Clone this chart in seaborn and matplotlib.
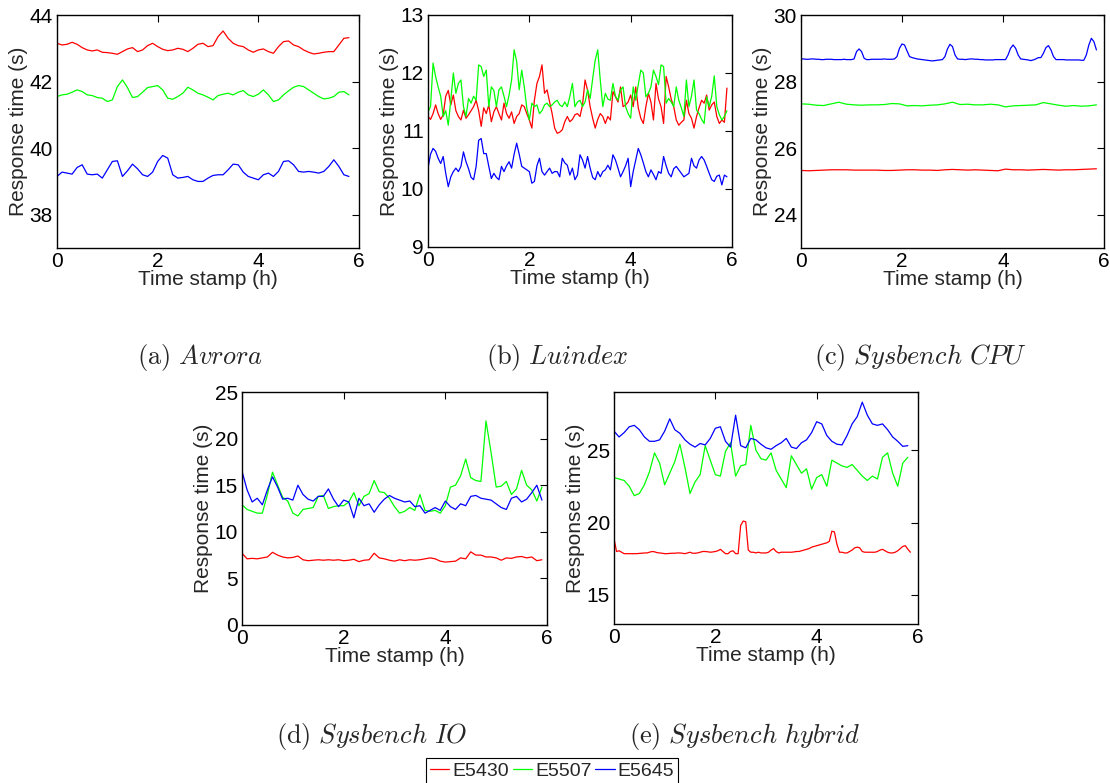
import numpy as np
import matplotlib
matplotlib.use('Agg')
import matplotlib.pyplot as plt
import seaborn as sns

# series names
servers = ['E5430', 'E5507', 'E5645']
colors = ['#ff0000', '#00ff00', '#0000ff']

# (a) Avrora, one value every 0.1 h
avrora_e5430 = [43.15, 43.1, 43.12, 43.18, 43.12, 43.02, 42.95, 42.92, 42.95, 42.88, 42.87, 42.85, 42.82, 42.9, 42.98,
                43.02, 42.9, 42.95, 43.08, 43.15, 43.05, 42.97, 42.93, 42.95, 43.0, 42.97, 42.9, 43.0, 43.12, 43.15,
                43.05, 43.08, 43.35, 43.52, 43.3, 43.15, 43.08, 43.05, 42.95, 42.88, 42.95, 42.98, 42.9, 42.85, 43.05,
                43.2, 43.22, 43.1, 43.05, 42.95, 42.88, 42.83, 42.85, 42.88, 42.9, 42.9, 43.1, 43.3, 43.32]
avrora_e5507 = [41.55, 41.6, 41.62, 41.68, 41.75, 41.7, 41.6, 41.58, 41.52, 41.5, 41.4, 41.45, 41.85, 42.05, 41.82,
                41.52, 41.55, 41.68, 41.82, 41.85, 41.88, 41.75, 41.5, 41.47, 41.55, 41.65, 41.83, 41.75, 41.65, 41.6,
                41.53, 41.45, 41.58, 41.62, 41.65, 41.6, 41.68, 41.73, 41.6, 41.55, 41.62, 41.75, 41.6, 41.4, 41.45,
                41.6, 41.72, 41.83, 41.88, 41.85, 41.75, 41.65, 41.55, 41.48, 41.5, 41.55, 41.68, 41.7, 41.6]
avrora_e5645 = [39.15, 39.28, 39.25, 39.22, 39.42, 39.5, 39.22, 39.2, 39.22, 39.1, 39.35, 39.6, 39.62, 39.15, 39.32,
                39.52, 39.38, 39.2, 39.15, 39.28, 39.6, 39.78, 39.7, 39.2, 39.1, 39.12, 39.15, 39.05, 39.0, 39.0,
                39.1, 39.18, 39.2, 39.2, 39.35, 39.52, 39.5, 39.28, 39.15, 39.1, 39.05, 39.2, 39.25, 39.15, 39.3,
                39.6, 39.62, 39.5, 39.3, 39.28, 39.3, 39.28, 39.25, 39.3, 39.45, 39.65, 39.45, 39.2, 39.15]

# (b) Luindex, one value every 0.05 h
luindex_e5430 = [11.25, 11.2, 11.3, 11.45, 11.3, 11.2, 11.28, 11.6, 11.7, 11.45, 11.62, 11.35, 11.25, 11.19, 11.36,
                 11.22, 11.28, 11.35, 11.42, 11.53, 11.35, 11.08, 11.4, 11.3, 11.45, 11.16, 11.33, 11.42, 11.3, 11.19,
                 11.48, 11.3, 11.22, 11.33, 11.13, 11.25, 11.3, 11.45, 11.42, 11.3, 11.19, 11.05, 11.53, 11.82, 11.94,
                 12.14, 11.65, 11.71, 11.5, 11.3, 11.05, 10.96, 10.98, 11.02, 11.16, 11.25, 11.16, 11.2, 11.28, 11.3,
                 11.25, 11.45, 11.88, 11.7, 11.42, 11.22, 11.05, 11.2, 11.3, 11.25, 11.13, 11.25, 11.19, 11.68, 11.59,
                 11.5, 11.76, 11.42, 11.45, 11.5, 11.62, 11.42, 11.76, 11.4, 11.22, 11.13, 11.42, 11.65, 11.5, 11.19,
                 11.82, 11.55, 11.42, 11.13, 11.94, 11.76, 11.55, 11.42, 11.19, 11.1, 11.15, 11.19, 11.53, 11.3, 11.22,
                 11.05, 11.25, 11.4, 11.53, 11.48, 11.62, 11.36, 11.45, 11.5, 11.25, 11.13, 11.19, 11.15, 11.74]
luindex_e5507 = [11.33, 11.42, 12.17, 11.94, 11.76, 11.6, 11.25, 11.35, 11.1, 11.53, 12.0, 11.65, 11.82, 11.88, 11.42,
                 11.25, 11.56, 11.48, 11.6, 11.53, 12.14, 12.11, 11.94, 12.05, 11.42, 11.76, 11.7, 11.42, 11.71, 11.76,
                 11.6, 11.42, 11.62, 11.88, 12.4, 12.2, 11.71, 12.05, 11.76, 11.4, 11.19, 11.48, 11.42, 11.45, 11.3,
                 11.35, 11.45, 11.48, 11.42, 11.45, 11.5, 11.53, 11.45, 11.42, 11.5, 11.42, 11.6, 11.82, 11.42, 11.5,
                 11.53, 11.42, 11.5, 11.71, 11.56, 11.9, 12.22, 12.4, 11.88, 11.42, 11.65, 11.55, 11.53, 11.82, 11.6,
                 11.53, 11.71, 11.76, 11.42, 11.3, 11.22, 11.76, 11.53, 11.8, 12.05, 12.0, 11.59, 11.65, 11.76, 12.05,
                 11.94, 11.8, 12.14, 12.11, 11.48, 11.56, 11.5, 11.42, 11.76, 11.53, 11.4, 11.25, 11.88, 11.42, 11.6,
                 11.88, 11.36, 11.3, 11.2, 11.13, 11.59, 11.42, 11.6, 11.95, 11.42, 11.28, 11.19, 11.25, 11.35]
luindex_e5645 = [10.36, 10.6, 10.7, 10.65, 10.53, 10.44, 10.56, 10.27, 10.04, 10.21, 10.3, 10.36, 10.3, 10.39, 10.64,
                 10.47, 10.35, 10.2, 10.16, 10.39, 10.84, 10.87, 10.61, 10.61, 10.39, 10.18, 10.27, 10.2, 10.16, 10.39,
                 10.3, 10.4, 10.47, 10.36, 10.6, 10.79, 10.6, 10.39, 10.36, 10.33, 10.3, 10.1, 10.13, 10.4, 10.53,
                 10.3, 10.24, 10.3, 10.36, 10.27, 10.3, 10.3, 10.21, 10.53, 10.45, 10.41, 10.24, 10.36, 10.16, 10.24,
                 10.59, 10.5, 10.36, 10.56, 10.36, 10.2, 10.16, 10.3, 10.21, 10.3, 10.33, 10.41, 10.33, 10.59, 10.5,
                 10.36, 10.21, 10.3, 10.4, 10.53, 10.04, 10.3, 10.5, 10.7, 10.59, 10.45, 10.3, 10.21, 10.33, 10.25,
                 10.16, 10.3, 10.27, 10.56, 10.4, 10.27, 10.21, 10.35, 10.39, 10.33, 10.27, 10.21, 10.24, 10.27, 10.53,
                 10.4, 10.36, 10.5, 10.56, 10.5, 10.39, 10.27, 10.16, 10.13, 10.22, 10.24, 10.07, 10.24, 10.21]

# (c) Sysbench CPU, E5430/E5507 every 0.15 h, E5645 every 0.05 h
cpu_e5430 = [25.33, 25.32, 25.33, 25.34, 25.35, 25.35, 25.35, 25.34, 25.34, 25.34, 25.34, 25.33, 25.33, 25.34,
             25.35, 25.35, 25.34, 25.34, 25.33, 25.35, 25.36, 25.35, 25.34, 25.35, 25.34, 25.33, 25.32, 25.37,
             25.35, 25.35, 25.34, 25.35, 25.36, 25.35, 25.34, 25.35, 25.35, 25.36, 25.37, 25.38]
cpu_e5507 = [27.33, 27.32, 27.29, 27.28, 27.33, 27.38, 27.32, 27.3, 27.29, 27.3, 27.3, 27.31, 27.34, 27.33,
             27.27, 27.28, 27.27, 27.29, 27.3, 27.33, 27.38, 27.31, 27.32, 27.3, 27.3, 27.32, 27.3, 27.24,
             27.27, 27.28, 27.29, 27.3, 27.37, 27.33, 27.29, 27.26, 27.28, 27.26, 27.27, 27.3]
cpu_e5645 = [28.68, 28.68, 28.67, 28.67, 28.68, 28.68, 28.67, 28.67, 28.66, 28.66, 28.67, 28.67, 28.67, 28.66,
             28.66, 28.66, 28.66, 28.67, 28.66, 28.66, 28.66, 28.68, 28.9, 28.98, 28.9, 28.7, 28.66, 28.66,
             28.67, 28.67, 28.67, 28.67, 28.67, 28.68, 28.67, 28.67, 28.67, 28.68, 28.75, 29.0, 29.13, 29.1,
             28.92, 28.75, 28.72, 28.7, 28.68, 28.67, 28.66, 28.65, 28.64, 28.63, 28.62, 28.63, 28.64, 28.65,
             28.66, 28.75, 28.98, 29.12, 29.05, 28.8, 28.68, 28.67, 28.67, 28.66, 28.67, 28.68, 28.68, 28.67,
             28.67, 28.66, 28.66, 28.65, 28.65, 28.65, 28.65, 28.66, 28.66, 28.66, 28.66, 28.66, 28.8, 29.0,
             29.1, 29.0, 28.8, 28.68, 28.67, 28.66, 28.65, 28.63, 28.65, 28.68, 28.72, 28.72, 28.85, 29.02,
             29.08, 28.95, 28.75, 28.66, 28.66, 28.66, 28.66, 28.65, 28.65, 28.65, 28.65, 28.65, 28.65, 28.64,
             28.64, 28.8, 29.1, 29.3, 29.2, 28.95]

# (d) Sysbench IO, one value every 0.1 h
io_e5430 = [7.7, 7.1, 7.15, 7.1, 7.2, 7.3, 7.8, 7.5, 7.3, 7.2, 7.25, 7.4, 7.0, 6.9, 6.95, 7.0, 6.95, 7.0, 6.95, 7.0,
            6.9, 6.95, 7.05, 6.8, 6.95, 7.0, 7.7, 7.2, 7.1, 6.95, 6.85, 7.0, 6.9, 7.0, 6.95, 7.0, 7.1, 7.2, 7.1, 6.85,
            6.75, 6.8, 6.85, 7.2, 7.1, 7.85, 7.5, 7.5, 7.3, 7.3, 7.2, 6.95, 7.2, 7.15, 7.3, 7.35, 7.2, 7.3, 6.9, 7.0]
io_e5507 = [12.9, 12.4, 12.2, 12.0, 12.0, 14.0, 16.4, 15.0, 13.7, 13.3, 12.0, 11.7, 12.4, 12.5, 12.6, 13.8, 13.9,
            12.5, 12.7, 12.8, 12.8, 13.2, 14.2, 12.8, 13.8, 14.1, 15.5, 14.3, 14.2, 13.6, 12.7, 12.0, 12.2, 12.6,
            12.3, 14.0, 12.3, 12.2, 12.3, 12.0, 12.8, 14.8, 15.0, 16.0, 17.8, 15.8, 15.5, 15.4, 21.9, 18.5, 14.8,
            14.9, 15.4, 14.0, 14.6, 16.6, 15.0, 14.5, 13.3, 14.8]
io_e5645 = [16.5, 14.5, 13.2, 13.6, 12.9, 14.5, 15.9, 14.8, 13.5, 13.6, 13.4, 15.0, 14.0, 13.5, 13.3, 13.8, 13.8,
            14.6, 13.5, 12.7, 13.4, 13.2, 11.5, 13.6, 12.8, 13.0, 12.1, 12.9, 13.5, 13.9, 13.6, 13.4, 13.2, 13.3,
            12.7, 12.8, 12.0, 12.3, 12.6, 12.3, 13.3, 12.7, 12.4, 13.0, 12.8, 13.8, 13.9, 13.6, 13.5, 13.4, 13.0,
            12.6, 12.4, 13.6, 13.8, 13.2, 13.5, 14.2, 15.0, 13.4]

# (e) Sysbench hybrid, E5430 every 0.05 h, others every 0.1 h
hybrid_e5430 = [18.9, 18.0, 18.05, 17.95, 17.85, 17.85, 17.85, 17.85, 17.85, 17.85, 17.87, 17.88, 17.9, 17.9, 17.95,
                18.0, 17.98, 17.92, 17.9, 17.88, 17.85, 17.85, 17.87, 17.88, 17.88, 17.9, 17.9, 17.88, 17.85, 17.9,
                17.95, 17.88, 17.88, 17.9, 17.95, 18.0, 18.0, 17.98, 17.95, 17.97, 18.0, 18.05, 18.15, 18.0, 17.85,
                17.85, 18.0, 18.05, 17.85, 17.85, 19.8, 20.1, 20.05, 18.1, 17.95, 17.95, 17.9, 17.95, 17.9, 17.9,
                17.9, 17.95, 18.1, 18.2, 18.0, 17.9, 17.95, 17.95, 17.95, 17.95, 17.95, 17.97, 18.0, 18.0, 18.05,
                18.1, 18.15, 18.2, 18.3, 18.35, 18.4, 18.45, 18.5, 18.55, 18.6, 18.7, 19.4, 19.35, 18.5, 17.95,
                17.95, 17.9, 17.9, 18.0, 18.1, 18.25, 18.3, 18.25, 18.0, 17.95, 17.95, 17.95, 17.95, 17.95, 18.0,
                18.1, 18.15, 18.05, 17.95, 17.9, 17.9, 17.95, 18.05, 18.2, 18.35, 18.4, 18.15, 17.95]
hybrid_e5507 = [23.1, 23.0, 22.9, 22.5, 21.85, 22.0, 22.6, 23.5, 24.8, 24.1, 22.6, 23.4, 24.2, 25.4, 23.8, 22.0,
                22.8, 23.3, 25.3, 24.3, 23.3, 23.2, 24.9, 25.5, 23.2, 23.9, 24.0, 26.7, 25.0, 24.4, 24.3, 24.8,
                23.6, 23.0, 22.4, 24.6, 24.0, 23.4, 23.7, 22.3, 23.1, 23.3, 22.5, 24.3, 24.1, 23.9, 23.8, 24.0,
                23.6, 23.2, 22.9, 23.2, 23.0, 24.5, 24.8, 23.4, 22.5, 24.1, 24.5]
hybrid_e5645 = [26.3, 25.9, 26.2, 26.6, 26.7, 26.4, 25.9, 25.6, 25.6, 25.7, 26.3, 27.15, 26.4, 26.15, 25.7, 25.4,
                25.2, 25.45, 25.35, 25.8, 26.5, 26.6, 25.6, 25.2, 27.4, 25.3, 25.15, 25.8, 25.7, 25.4, 25.15, 25.05,
                25.3, 25.5, 25.8, 25.2, 25.1, 25.5, 25.7, 26.2, 26.95, 26.8, 26.0, 25.6, 25.4, 25.35, 26.0, 26.8,
                27.3, 28.3, 27.4, 26.8, 26.7, 26.8, 26.4, 25.9, 25.6, 25.25, 25.3]

sns.set_style('white')
plt.rcParams['font.family'] = ['Liberation Sans', 'DejaVu Sans']
plt.rcParams['mathtext.fontset'] = 'cm'

W, H = 1110, 783
fig = plt.figure(figsize=(W / 100, H / 100), dpi=100)

# box in pixels (left, top, right, bottom), y limits, y ticks, end times, series, caption, caption centre
panels = [
    ((57, 15, 359, 248), (37, 44), [38, 40, 42, 44], (5.8, 5.8, 5.8),
     (avrora_e5430, avrora_e5507, avrora_e5645), r'$\mathrm{(a)}\ \mathit{Avrora}$', (200, 357)),
    ((428, 15, 732, 247), (9, 13), [9, 10, 11, 12, 13], (5.9, 5.9, 5.9),
     (luindex_e5430, luindex_e5507, luindex_e5645), r'$\mathrm{(b)}\ \mathit{Luindex}$', (557, 357)),
    ((801, 15, 1104, 248), (23, 30), [24, 26, 28, 30], (5.85, 5.85, 5.85),
     (cpu_e5430, cpu_e5507, cpu_e5645), r'$\mathrm{(c)}\ \mathit{Sysbench\ CPU}$', (921, 357)),
    ((242, 392, 547, 625), (0, 25), [0, 5, 10, 15, 20, 25], (5.9, 5.9, 5.9),
     (io_e5430, io_e5507, io_e5645), r'$\mathrm{(d)}\ \mathit{Sysbench\ IO}$', (372, 737)),
    ((614, 392, 918, 624), (13, 29), [15, 20, 25], (5.85, 5.8, 5.8),
     (hybrid_e5430, hybrid_e5507, hybrid_e5645), r'$\mathrm{(e)}\ \mathit{Sysbench\ hybrid}$', (745, 737)),
]

for box, ylim, yticks, ends, series, caption, cpos in panels:
    l, t, r, b = box
    ax = fig.add_axes([l / W, 1 - b / H, (r - l) / W, (b - t) / H])
    for vals, end, c, name in zip(series, ends, colors, servers):
        sns.lineplot(x=np.linspace(0, end, len(vals)), y=vals, color=c, linewidth=0.9, ax=ax, label=name, legend=False)
    ax.set_xlim(0, 6)
    ax.set_ylim(*ylim)
    ax.set_xticks([0, 2, 4, 6])
    ax.set_yticks(yticks)
    ax.tick_params(direction='in', top=True, right=True, length=5, width=0.8, labelsize=15, pad=3, colors='black')
    for s in ax.spines.values():
        s.set_color('black')
        s.set_linewidth(1.0)
    ax.set_xlabel('Time stamp (h)', fontsize=15, labelpad=-1)
    ax.set_ylabel('Response time (s)', fontsize=15, labelpad=1)
    fig.text(cpos[0] / W, 1 - cpos[1] / H, caption, ha='center', va='center', fontsize=19)

handles, labels = ax.get_legend_handles_labels()
leg = fig.legend(handles, labels, loc='center', bbox_to_anchor=(552 / W, 1 - 771 / H), ncol=3, fontsize=14,
                 handlelength=1.0, handletextpad=0.15, columnspacing=0.2, borderpad=0.2, fancybox=False,
                 framealpha=1, edgecolor='black')
leg.get_frame().set_linewidth(0.8)

fig.savefig('out.png', dpi=100)
